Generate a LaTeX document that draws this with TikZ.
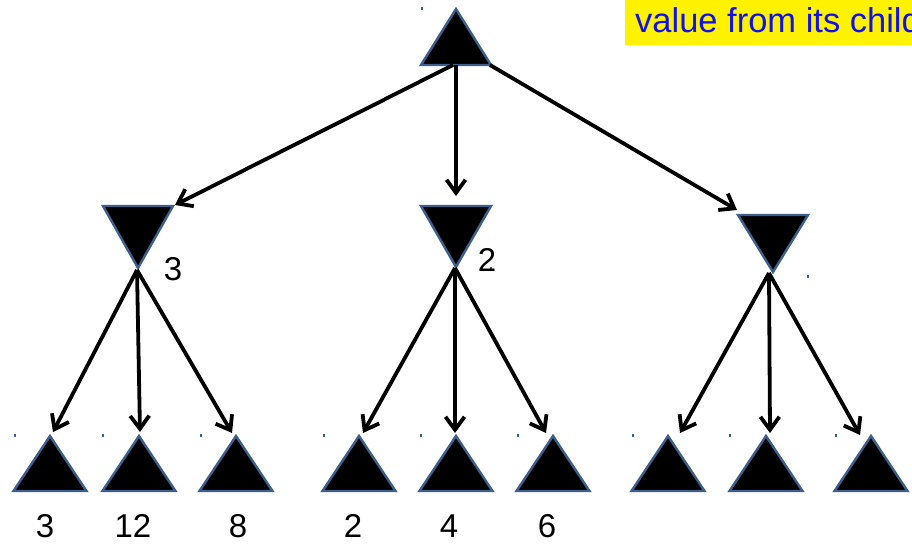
\documentclass[tikz,border=0pt]{standalone}
\usepackage{fontspec}
\setmainfont{Liberation Sans}
\usetikzlibrary{arrows.meta}
\definecolor{edgeblue}{HTML}{3C5F8C}
\definecolor{txtblue}{HTML}{1010F0}
\begin{document}
\begin{tikzpicture}[x=1pt,y=-1pt,
  tri/.style={fill=black,draw=edgeblue,line width=2.4pt,line join=miter},
  arr/.style={line width=3.8pt,-{Straight Barb[length=13pt,width=19pt]}},
  lbl/.style={inner sep=0pt,font=\fontsize{33}{38}\selectfont},
  tickmark/.style={fill=edgeblue}]
\useasboundingbox (0,0) rectangle (912,543);
\clip (0,0) rectangle (912,543);
\fill[white] (0,0) rectangle (912,543);

% note box (cut off at the right edge, as in the reference)
\fill[yellow] (625,0) rectangle (920,45);
\node[anchor=base west,text=txtblue,inner sep=0pt,font=\fontsize{34.5}{40}\selectfont] (note) at (635,33) {value from its child};

% root
\draw[tri] (421,65) -- (456,9) -- (491,65) -- cycle;
\coordinate (rootL) at (453,65);
\coordinate (rootC) at (456,65);
\coordinate (rootR) at (490,65);

% min nodes
\draw[tri] (103,206) -- (173,206) -- (138,268) -- cycle;
\draw[tri] (421,206) -- (491,206) -- (456,267) -- cycle;
\draw[tri] (738,215) -- (808,215) -- (773,272) -- cycle;
\coordinate (mA) at (137,270);
\coordinate (mB) at (455,268);
\coordinate (mC) at (769,273);
\coordinate (mAin) at (175,205);
\coordinate (mBin) at (456,196);
\coordinate (mCin) at (737,210);

% leaves
\foreach \x in {50,139,236,359,456,553,668,766,871}
  \draw[tri] (\x-36.5,491) -- (\x,436) -- (\x+36.5,491) -- cycle;
\coordinate (l1) at (53,432);
\coordinate (l2) at (140,432);
\coordinate (l3) at (232,433);
\coordinate (l4) at (363,433);
\coordinate (l5) at (455,433);
\coordinate (l6) at (546,433);
\coordinate (l7) at (680,433);
\coordinate (l8) at (770,433);
\coordinate (l9) at (860,435);

% arrows
\draw[arr] (rootL) -- (mAin);
\draw[arr] (rootC) -- (mBin);
\draw[arr] (rootR) -- (mCin);
\draw[arr] (mA) -- (l1);
\draw[arr] (mA) -- (l2);
\draw[arr] (mA) -- (l3);
\draw[arr] (mB) -- (l4);
\draw[arr] (mB) -- (l5);
\draw[arr] (mB) -- (l6);
\draw[arr] (mC) -- (l7);
\draw[arr] (mC) -- (l8);
\draw[arr] (mC) -- (l9);

% tiny marks
\foreach \x/\y in {15/435,103/435,201/435,324/435,421/435,518/435,633/435,730/435,836/435,422/9,808/276,491/268}
  \fill[tickmark] (\x-0.6,\y-1.5) rectangle (\x+0.6,\y+1.5);

% labels
\node[lbl] (vA) at (173,269) {3};
\node[lbl] (vB) at (487,260) {2};
\node[lbl] (v1) at (45,526) {3};
\node[lbl] (v2) at (133,526) {12};
\node[lbl] (v3) at (238,526) {8};
\node[lbl] (v4) at (353,526) {2};
\node[lbl] (v5) at (449,526) {4};
\node[lbl] (v6) at (547,526) {6};
\end{tikzpicture}
\end{document}
